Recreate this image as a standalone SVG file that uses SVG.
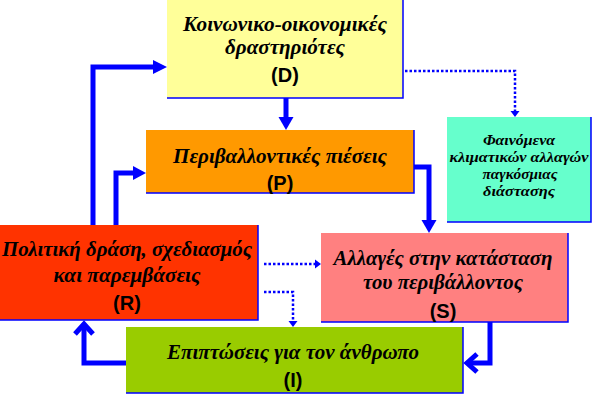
<svg xmlns="http://www.w3.org/2000/svg" width="598" height="413" viewBox="0 0 598 413">
<style>
.t{font-family:"Liberation Serif","Times New Roman",serif;font-weight:bold;font-style:italic;font-size:20px;fill:#000;text-anchor:middle}
.s{font-size:15px}
.l{font-family:"Liberation Sans",Arial,sans-serif;font-weight:bold;font-size:20px;fill:#000;text-anchor:middle}
.edge{fill:none;stroke:#0000FF;stroke-width:1.5}
.thick{fill:none;stroke:#0000FF;stroke-width:5}
.dot{fill:none;stroke:#0000FF;stroke-width:2.5;stroke-dasharray:2.5 2}
.head{fill:#0000FF}
</style>
<rect width="598" height="413" fill="#fff"/>
<g id="D">
<rect x="167" y="0" width="236" height="98" fill="#FFFF99"/>
<path class="edge" d="M403 0V98H167"/>
<text class="t" x="285" y="31" textLength="204" lengthAdjust="spacingAndGlyphs">Κοινωνικο-οικονομικές</text>
<text class="t" x="285" y="54" textLength="120" lengthAdjust="spacingAndGlyphs">δραστηριότες</text>
<text class="l" x="285" y="82">(D)</text>
</g>
<g id="P">
<rect x="146" y="130" width="268" height="63" fill="#FF9900"/>
<path class="edge" d="M414 130V193H146"/>
<text class="t" x="280" y="163" textLength="214" lengthAdjust="spacingAndGlyphs">Περιβαλλοντικές πιέσεις</text>
<text class="l" x="280" y="190">(P)</text>
</g>
<g id="C">
<rect x="447" y="117" width="144" height="105" fill="#66FFCC"/>
<path class="edge" d="M591 117V222H447"/>
<text class="t s" x="519" y="145" textLength="72" lengthAdjust="spacingAndGlyphs">Φαινόμενα</text>
<text class="t s" x="519" y="162" textLength="139" lengthAdjust="spacingAndGlyphs">κλιματικών αλλαγών</text>
<text class="t s" x="520" y="179" textLength="75" lengthAdjust="spacingAndGlyphs">παγκόσμιας</text>
<text class="t s" x="519" y="196" textLength="72" lengthAdjust="spacingAndGlyphs">διάστασης</text>
</g>
<g id="R">
<rect x="0" y="225" width="258" height="95" fill="#FF3300"/>
<path class="edge" d="M258 225V320H0"/>
<text class="t" x="127" y="256" textLength="250" lengthAdjust="spacingAndGlyphs">Πολιτική δράση, σχεδιασμός</text>
<text class="t" x="127" y="282" textLength="147" lengthAdjust="spacingAndGlyphs">και παρεμβάσεις</text>
<text class="l" x="127" y="310">(R)</text>
</g>
<g id="S">
<rect x="321" y="233" width="247" height="89" fill="#FF8080"/>
<path class="edge" d="M568 233V322H321"/>
<text class="t" x="443" y="265" textLength="219" lengthAdjust="spacingAndGlyphs">Αλλαγές στην κατάσταση</text>
<text class="t" x="443" y="289" textLength="160" lengthAdjust="spacingAndGlyphs">του περιβάλλοντος</text>
<text class="l" x="443" y="318">(S)</text>
</g>
<g id="I">
<rect x="126" y="327" width="337" height="66" fill="#99CC00"/>
<path class="edge" d="M463 327V393H126"/>
<text class="t" x="293" y="359" textLength="252" lengthAdjust="spacingAndGlyphs">Επιπτώσεις για τον άνθρωπο</text>
<text class="l" x="293" y="387">(I)</text>
</g>
<g id="connectors">
<path class="thick" d="M286 98V118"/>
<polygon class="head" points="278.5,117 293.5,117 286,130"/>
<path class="thick" d="M414 167H429V221"/>
<polygon class="head" points="421.5,220 436.5,220 429,233"/>
<path class="thick" d="M490 322V363H467"/>
<path class="thick" d="M477 354L467 363L477 372"/>
<path class="thick" d="M126 363H84V324"/>
<path class="thick" d="M75 334L84 324L93 334"/>
<path class="thick" d="M93 225V67H154"/>
<polygon class="head" points="153,60 153,74 167,67"/>
<path class="thick" d="M116 225V173H134"/>
<polygon class="head" points="133,166 133,180 146,173"/>
<path class="dot" d="M405 71H515V111"/>
<polygon class="head" points="510.5,111 519.5,111 515,117"/>
<path class="dot" d="M264 264H315"/>
<polygon class="head" points="315,259.5 315,268.5 321,264"/>
<path class="dot" d="M264 292H293V321"/>
<polygon class="head" points="288.5,321 297.5,321 293,327"/>
</g>
</svg>
